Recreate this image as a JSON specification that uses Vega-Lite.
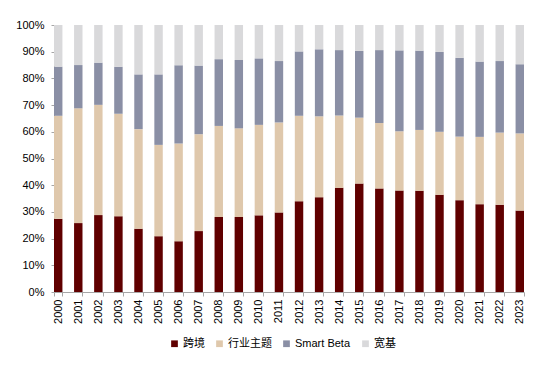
{
  "$schema": "https://vega.github.io/schema/vega-lite/v6.json",
  "width": 470,
  "height": 267,
  "padding": {"left": 15, "top": 19, "right": 5, "bottom": 5},
  "background": "white",
  "config": {
    "view": {"stroke": null},
    "font": "Liberation Sans",
    "axis": {"labelFont": "Liberation Sans", "labelColor": "#000000", "labelFontSize": 11, "grid": false, "domainColor": "#A6A6A6", "tickColor": "#A6A6A6"},
    "legend": {"labelFont": "Liberation Sans, Noto Sans CJK SC", "labelFontSize": 11, "labelColor": "#000000"}
  },
  "data": {
    "values": [
      {"year": "2000", "s": "跨境", "v": 27.4}, {"year": "2000", "s": "行业主题", "v": 38.6}, {"year": "2000", "s": "Smart Beta", "v": 18.4}, {"year": "2000", "s": "宽基", "v": 15.6},
      {"year": "2001", "s": "跨境", "v": 25.8}, {"year": "2001", "s": "行业主题", "v": 43.0}, {"year": "2001", "s": "Smart Beta", "v": 16.2}, {"year": "2001", "s": "宽基", "v": 15.0},
      {"year": "2002", "s": "跨境", "v": 28.8}, {"year": "2002", "s": "行业主题", "v": 41.3}, {"year": "2002", "s": "Smart Beta", "v": 15.8}, {"year": "2002", "s": "宽基", "v": 14.1},
      {"year": "2003", "s": "跨境", "v": 28.4}, {"year": "2003", "s": "行业主题", "v": 38.4}, {"year": "2003", "s": "Smart Beta", "v": 17.6}, {"year": "2003", "s": "宽基", "v": 15.6},
      {"year": "2004", "s": "跨境", "v": 23.7}, {"year": "2004", "s": "行业主题", "v": 37.3}, {"year": "2004", "s": "Smart Beta", "v": 20.5}, {"year": "2004", "s": "宽基", "v": 18.5},
      {"year": "2005", "s": "跨境", "v": 20.9}, {"year": "2005", "s": "行业主题", "v": 34.2}, {"year": "2005", "s": "Smart Beta", "v": 26.4}, {"year": "2005", "s": "宽基", "v": 18.5},
      {"year": "2006", "s": "跨境", "v": 19.0}, {"year": "2006", "s": "行业主题", "v": 36.6}, {"year": "2006", "s": "Smart Beta", "v": 29.3}, {"year": "2006", "s": "宽基", "v": 15.1},
      {"year": "2007", "s": "跨境", "v": 22.8}, {"year": "2007", "s": "行业主题", "v": 36.3}, {"year": "2007", "s": "Smart Beta", "v": 25.7}, {"year": "2007", "s": "宽基", "v": 15.2},
      {"year": "2008", "s": "跨境", "v": 28.1}, {"year": "2008", "s": "行业主题", "v": 34.1}, {"year": "2008", "s": "Smart Beta", "v": 25.0}, {"year": "2008", "s": "宽基", "v": 12.8},
      {"year": "2009", "s": "跨境", "v": 28.1}, {"year": "2009", "s": "行业主题", "v": 33.2}, {"year": "2009", "s": "Smart Beta", "v": 25.6}, {"year": "2009", "s": "宽基", "v": 13.1},
      {"year": "2010", "s": "跨境", "v": 28.7}, {"year": "2010", "s": "行业主题", "v": 33.9}, {"year": "2010", "s": "Smart Beta", "v": 24.9}, {"year": "2010", "s": "宽基", "v": 12.5},
      {"year": "2011", "s": "跨境", "v": 29.8}, {"year": "2011", "s": "行业主题", "v": 33.7}, {"year": "2011", "s": "Smart Beta", "v": 23.0}, {"year": "2011", "s": "宽基", "v": 13.5},
      {"year": "2012", "s": "跨境", "v": 34.0}, {"year": "2012", "s": "行业主题", "v": 32.0}, {"year": "2012", "s": "Smart Beta", "v": 24.1}, {"year": "2012", "s": "宽基", "v": 9.9},
      {"year": "2013", "s": "跨境", "v": 35.5}, {"year": "2013", "s": "行业主题", "v": 30.3}, {"year": "2013", "s": "Smart Beta", "v": 25.1}, {"year": "2013", "s": "宽基", "v": 9.1},
      {"year": "2014", "s": "跨境", "v": 39.0}, {"year": "2014", "s": "行业主题", "v": 27.1}, {"year": "2014", "s": "Smart Beta", "v": 24.5}, {"year": "2014", "s": "宽基", "v": 9.4},
      {"year": "2015", "s": "跨境", "v": 40.6}, {"year": "2015", "s": "行业主题", "v": 24.7}, {"year": "2015", "s": "Smart Beta", "v": 25.0}, {"year": "2015", "s": "宽基", "v": 9.7},
      {"year": "2016", "s": "跨境", "v": 38.8}, {"year": "2016", "s": "行业主题", "v": 24.5}, {"year": "2016", "s": "Smart Beta", "v": 27.3}, {"year": "2016", "s": "宽基", "v": 9.4},
      {"year": "2017", "s": "跨境", "v": 38.0}, {"year": "2017", "s": "行业主题", "v": 22.2}, {"year": "2017", "s": "Smart Beta", "v": 30.3}, {"year": "2017", "s": "宽基", "v": 9.5},
      {"year": "2018", "s": "跨境", "v": 37.9}, {"year": "2018", "s": "行业主题", "v": 22.8}, {"year": "2018", "s": "Smart Beta", "v": 29.7}, {"year": "2018", "s": "宽基", "v": 9.6},
      {"year": "2019", "s": "跨境", "v": 36.4}, {"year": "2019", "s": "行业主题", "v": 23.6}, {"year": "2019", "s": "Smart Beta", "v": 29.9}, {"year": "2019", "s": "宽基", "v": 10.1},
      {"year": "2020", "s": "跨境", "v": 34.4}, {"year": "2020", "s": "行业主题", "v": 23.8}, {"year": "2020", "s": "Smart Beta", "v": 29.5}, {"year": "2020", "s": "宽基", "v": 12.3},
      {"year": "2021", "s": "跨境", "v": 32.9}, {"year": "2021", "s": "行业主题", "v": 25.2}, {"year": "2021", "s": "Smart Beta", "v": 28.2}, {"year": "2021", "s": "宽基", "v": 13.7},
      {"year": "2022", "s": "跨境", "v": 32.7}, {"year": "2022", "s": "行业主题", "v": 27.0}, {"year": "2022", "s": "Smart Beta", "v": 26.8}, {"year": "2022", "s": "宽基", "v": 13.5},
      {"year": "2023", "s": "跨境", "v": 30.5}, {"year": "2023", "s": "行业主题", "v": 28.9}, {"year": "2023", "s": "Smart Beta", "v": 25.9}, {"year": "2023", "s": "宽基", "v": 14.7}
    ]
  },
  "mark": {"type": "bar"},
  "encoding": {
    "x": {
      "field": "year", "type": "nominal", "title": null,
      "scale": {"paddingInner": 0.58, "paddingOuter": 0.0},
      "axis": {"labelAngle": -90, "tickBand": "extent", "tickSize": 4, "labelPadding": 3, "labelOverlap": false}
    },
    "y": {
      "field": "v", "type": "quantitative", "stack": "normalize", "title": null,
      "scale": {"domain": [0, 1]},
      "axis": {"format": ".0%", "values": [0, 0.1, 0.2, 0.3, 0.4, 0.5, 0.6, 0.7, 0.8, 0.9, 1.0], "tickSize": 3, "labelPadding": 7, "labelOverlap": false}
    },
    "color": {
      "field": "s", "type": "nominal", "title": null,
      "scale": {"domain": ["跨境", "行业主题", "Smart Beta", "宽基"], "range": ["#600000", "#DFC8AC", "#8A8FA5", "#D9D9DB"]},
      "legend": {"orient": "none", "legendX": 115, "legendY": 313, "direction": "horizontal", "symbolType": "square", "symbolSize": 45, "symbolStrokeWidth": 0, "columnPadding": 9, "labelOffset": 3}
    },
    "order": {"field": "ord", "type": "quantitative"}
  },
  "transform": [
    {"calculate": "indexof(['跨境','行业主题','Smart Beta','宽基'], datum.s)", "as": "ord"}
  ]
}
